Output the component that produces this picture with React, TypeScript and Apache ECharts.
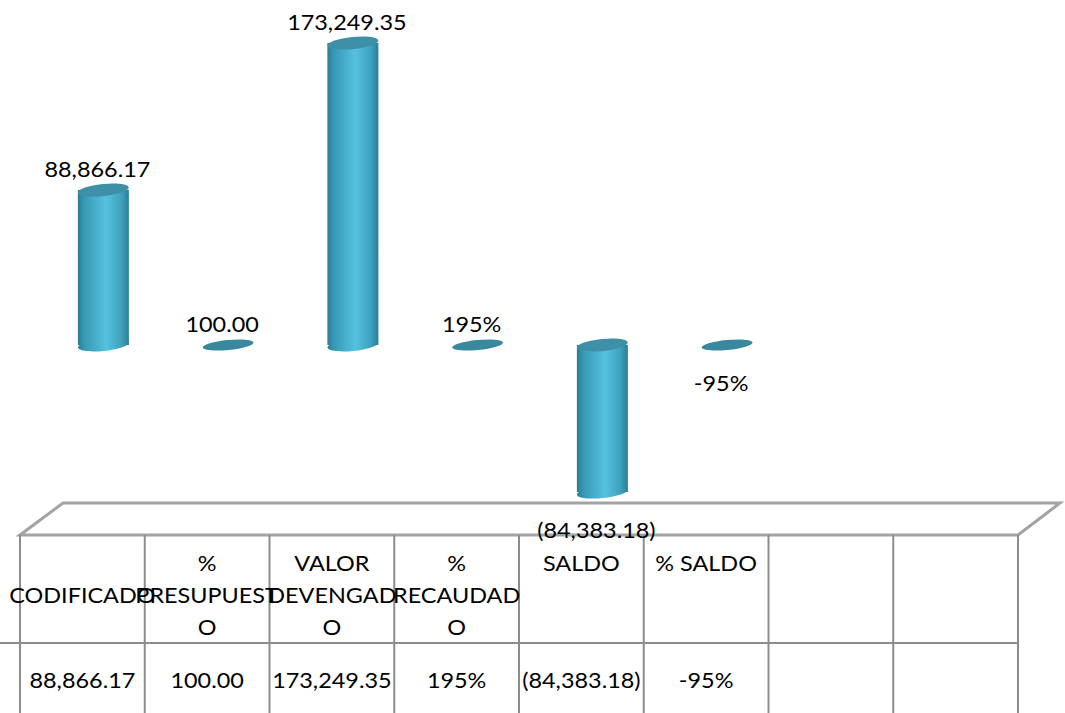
import React, { useEffect, useRef } from "react";
import * as echarts from "echarts";

// ---- data ----
const categories = ["CODIFICADO", "% PRESUPUESTO", "VALOR DEVENGADO", "% RECAUDADO", "SALDO", "% SALDO", "", ""];
const values: (number | null)[] = [88866.17, 100, 173249.35, 1.95, -84383.18, -0.95, null, null];
const valueLabels = ["88,866.17", "100.00", "173,249.35", "195%", "(84,383.18)", "-95%", "", ""];
const headerLines = [
  ["", "CODIFICADO", ""],
  ["%", "PRESUPUEST", "O"],
  ["VALOR", "DEVENGAD", "O"],
  ["%", "RECAUDAD", "O"],
  ["SALDO", "", ""],
  ["% SALDO", "", ""],
  ["", "", ""],
  ["", "", ""],
];

// ---- layout ----
const COL_W = 124.75;
const TABLE_LEFT = 20;
const TABLE_RIGHT = TABLE_LEFT + COL_W * categories.length;
const FONT = "21.5px Lato";
const TEXT_SX = 1.09;
const TILT = 0.1;
const LINE = "#8c8c8c";

export default function App() {
  const ref = useRef<HTMLDivElement>(null);
  useEffect(() => {
    if (!ref.current) return;
    const chart = echarts.init(ref.current, undefined, { renderer: "svg" });

    const gradient = () =>
      new echarts.graphic.LinearGradient(0, 0, 1, 0, [
        { offset: 0, color: "#2a7d94" },
        { offset: 0.12, color: "#3798b4" },
        { offset: 0.55, color: "#55c1df" },
        { offset: 0.85, color: "#3ea2be" },
        { offset: 1, color: "#2a7e96" },
      ]);

    const graphics: any[] = [];
    // floor
    graphics.push({
      type: "polygon",
      z: 0,
      shape: { points: [[TABLE_LEFT, 535], [63, 503], [1060, 503], [TABLE_RIGHT, 535]] },
      style: { fill: "none", stroke: "#a3a3a3", lineWidth: 3 },
    });
    // table vertical lines
    for (let i = 0; i <= categories.length; i++) {
      const x = TABLE_LEFT + i * COL_W;
      graphics.push({
        type: "line",
        z: 0,
        shape: { x1: x, y1: 535, x2: x, y2: 713 },
        style: { stroke: LINE, lineWidth: 2 },
      });
    }
    graphics.push({
      type: "line",
      z: 0,
      shape: { x1: 0, y1: 643, x2: TABLE_RIGHT, y2: 643 },
      style: { stroke: LINE, lineWidth: 2 },
    });
    const lineYs = [563, 595, 627];
    headerLines.forEach((lines, i) => {
      const cx = TABLE_LEFT + (i + 0.5) * COL_W;
      lines.forEach((t, j) => {
        if (!t) return;
        graphics.push({
          type: "text",
          z: 1,
          x: cx,
          y: lineYs[j],
          scaleX: TEXT_SX,
          style: { text: t, fill: "#000", font: FONT, align: "center", verticalAlign: "middle" },
        });
      });
      if (valueLabels[i]) {
        graphics.push({
          type: "text",
          z: 1,
          x: cx,
          y: 680,
          scaleX: TEXT_SX,
          style: { text: valueLabels[i], fill: "#000", font: FONT, align: "center", verticalAlign: "middle" },
        });
      }
    });

    const data = values.map((v, i) => [i, v]).filter((d) => d[1] != null);

    chart.setOption({
      animation: false,
      grid: { left: 41, width: COL_W * categories.length, top: 13.8, bottom: 193.7 },
      xAxis: { type: "category", data: categories, show: false },
      yAxis: { type: "value", min: -100000, max: 190000, show: false },
      graphic: { elements: graphics },
      series: [
        {
          type: "custom",
          z: 5,
          data,
          renderItem: (params: any, api: any) => {
            const idx = api.value(0);
            const v = api.value(1);
            const p0 = api.coord([idx, 0]);
            const p1 = api.coord([idx, v]);
            const cx = p0[0];
            const rx = 25.5;
            const ry = 6;
            const topY = Math.min(p0[1], p1[1]);
            const botY = Math.max(p0[1], p1[1]);
            const children: any[] = [];
            if (botY - topY > 2) {
              children.push({
                type: "ellipse",
                x: cx,
                y: botY,
                rotation: TILT,
                shape: { cx: 0, cy: 0, rx, ry },
                style: { fill: gradient() },
              });
              children.push({
                type: "rect",
                shape: { x: cx - rx, y: topY, width: rx * 2, height: botY - topY },
                style: { fill: gradient() },
              });
              children.push({
                type: "ellipse",
                x: cx,
                y: topY,
                rotation: TILT,
                shape: { cx: 0, cy: 0, rx, ry },
                style: { fill: "#3d90a7" },
              });
            } else {
              children.push({
                type: "ellipse",
                x: cx,
                y: p0[1],
                rotation: TILT,
                shape: { cx: 0, cy: 0, rx, ry: 5 },
                style: { fill: "#3a889d" },
              });
            }
            children.push({
              type: "text",
              x: cx - 6,
              y: v >= 0 ? p1[1] - 21 : p1[1] + 38,
              scaleX: TEXT_SX,
              style: {
                text: valueLabels[idx],
                fill: "#000",
                font: FONT,
                align: "center",
                verticalAlign: "middle",
              },
            });
            return { type: "group", children };
          },
        },
      ],
    });
    return () => chart.dispose();
  }, []);
  return <div ref={ref} style={{ position: "absolute", left: 0, top: 0, width: 1065, height: 713 }} />;
}
